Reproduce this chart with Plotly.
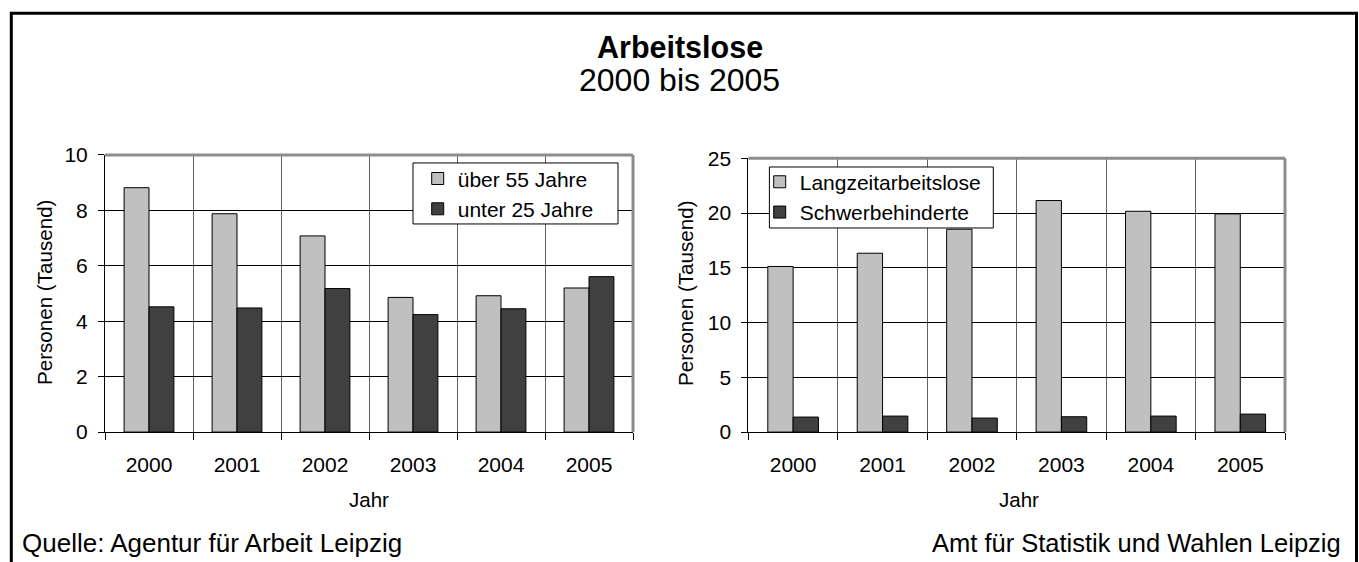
import plotly.graph_objects as go

# Arbeitslose in Leipzig, 2000 bis 2005 (Angaben in Tausend Personen)
jahre = [2000, 2001, 2002, 2003, 2004, 2005]

ueber_55 = [8.82, 7.88, 7.08, 4.86, 4.92, 5.20]
unter_25 = [4.52, 4.48, 5.18, 4.24, 4.45, 5.61]

langzeit = [15.12, 16.33, 18.52, 21.14, 20.16, 19.92]
schwerbehindert = [1.37, 1.46, 1.28, 1.40, 1.46, 1.64]

W, H = 1359, 562
FONT = "Liberation Sans, Arial, sans-serif"
HELL = "#C0C0C0"
DUNKEL = "#404040"


def px(x):
    return x / W


def py(y):
    return 1 - y / H


fig = go.Figure()

bar_line = dict(color="black", width=1)
fig.add_trace(go.Bar(x=jahre, y=ueber_55, name="über 55 Jahre", marker=dict(color=HELL, line=bar_line),
                     xaxis="x", yaxis="y", legend="legend"))
fig.add_trace(go.Bar(x=jahre, y=unter_25, name="unter 25 Jahre", marker=dict(color=DUNKEL, line=bar_line),
                     xaxis="x", yaxis="y", legend="legend"))
fig.add_trace(go.Bar(x=jahre, y=langzeit, name="Langzeitarbeitslose", marker=dict(color=HELL, line=bar_line),
                     xaxis="x2", yaxis="y2", legend="legend2"))
fig.add_trace(go.Bar(x=jahre, y=schwerbehindert, name="Schwerbehinderte", marker=dict(color=DUNKEL, line=bar_line),
                     xaxis="x2", yaxis="y2", legend="legend2"))

grenzen = [j - 0.5 for j in jahre] + [jahre[-1] + 0.5]


def x_achse(domain, anchor):
    return dict(
        domain=domain, anchor=anchor,
        range=[jahre[0] - 0.5, jahre[-1] + 0.5],
        tickvals=jahre, ticktext=[str(j) for j in jahre],
        ticks="outside", ticklen=14, tickcolor="rgba(0,0,0,0)",
        showgrid=False, zeroline=False,
        showline=True, linecolor="black", linewidth=1,
        tickfont=dict(size=21, color="black", family=FONT),
        minor=dict(tickvals=grenzen, ticks="outside", ticklen=7, tickcolor="black", tickwidth=1,
                   showgrid=True, gridcolor="#606060", gridwidth=1),
        fixedrange=True,
    )


def y_achse(domain, anchor, top, step):
    return dict(
        domain=domain, anchor=anchor,
        range=[0, top], dtick=step, tick0=0,
        ticks="outside", ticklen=6, tickcolor="black", ticklabelstandoff=6,
        showgrid=True, gridcolor="black", gridwidth=1,
        zeroline=False, showline=True, linecolor="black", linewidth=1,
        tickfont=dict(size=21, color="black", family=FONT),
        fixedrange=True,
    )


# Zeichenflächen (links, rechts, oben, unten) in Pixeln
L = (105, 633, 149.1, 438.0)
R = (748.4, 1285, 152.5, 438.0)

legend_stil = dict(xanchor="left", yanchor="top", bgcolor="rgba(0,0,0,0)", borderwidth=0,
                   font=dict(size=21, family=FONT, color="black"), itemwidth=30)

fig.update_layout(
    width=W, height=H,
    margin=dict(l=0, r=0, t=0, b=0),
    paper_bgcolor="white", plot_bgcolor="white",
    font=dict(family=FONT, color="black"),
    barmode="group", bargap=0.434, bargroupgap=0,
    xaxis=x_achse([px(L[0]), px(L[1])], "y"),
    yaxis=y_achse([py(L[3]), py(L[2])], "x", 10, 2),
    xaxis2=x_achse([px(R[0]), px(R[1])], "y2"),
    yaxis2=y_achse([py(R[3]), py(R[2])], "x2", 25, 5),
    legend=dict(x=px(417.7), y=py(152.6), **legend_stil),
    legend2=dict(x=px(759.7), y=py(156.0), **legend_stil),
    showlegend=True,
)

shapes = []
# weiße Legendenkästen mit schwarzem Rand
for x0, x1, y0, y1 in ((413, 618, 157.4, 221.0), (769.4, 993.3, 161.6, 225.2)):
    shapes.append(dict(type="rect", xref="paper", yref="paper",
                       x0=px(x0), x1=px(x1), y0=py(y1), y1=py(y0),
                       fillcolor="white", line=dict(color="black", width=1), layer="above"))
# grauer Rahmen oben und rechts der Zeichenflächen
for xr, yr in (("x domain", "y domain"), ("x2 domain", "y2 domain")):
    shapes.append(dict(type="line", xref=xr, yref=yr, x0=0, x1=1, y0=1, y1=1,
                       line=dict(color="#8C8C8C", width=3)))
    shapes.append(dict(type="line", xref=xr, yref=yr, x0=1, x1=1, y0=0, y1=1,
                       line=dict(color="#8C8C8C", width=3)))
# äußerer Rahmen
shapes.append(dict(type="rect", xref="paper", yref="paper",
                   x0=px(11.3), x1=px(1356.5), y0=-0.2, y1=py(1.2),
                   line=dict(color="black", width=3), layer="above"))
fig.update_layout(shapes=shapes)

ann = [
    dict(text="<b>Arbeitslose</b>", x=0.5, y=py(36.2), size=30.5),
    dict(text="2000 bis 2005", x=0.5, y=py(71.3), size=32),
    dict(text="Personen (Tausend)", x=px(44), y=py(293), textangle=-90, size=20.6),
    dict(text="Personen (Tausend)", x=px(686), y=py(294), textangle=-90, size=20.6),
    dict(text="Jahr", x=px(369), y=py(508), size=20.5),
    dict(text="Jahr", x=px(1019), y=py(508), size=20.5),
    dict(text="Quelle: Agentur für Arbeit Leipzig", x=px(20), y=py(553.5), xanchor="left", size=26),
    dict(text="Amt für Statistik und Wahlen Leipzig", x=px(1343), y=py(553.5), xanchor="right", size=25.5),
]
for a in ann:
    size = a.pop("size")
    a.setdefault("xanchor", "center")
    fig.add_annotation(xref="paper", yref="paper", showarrow=False, yanchor="middle",
                       font=dict(family=FONT, color="black", size=size), **a)

fig.write_html("out.html")
